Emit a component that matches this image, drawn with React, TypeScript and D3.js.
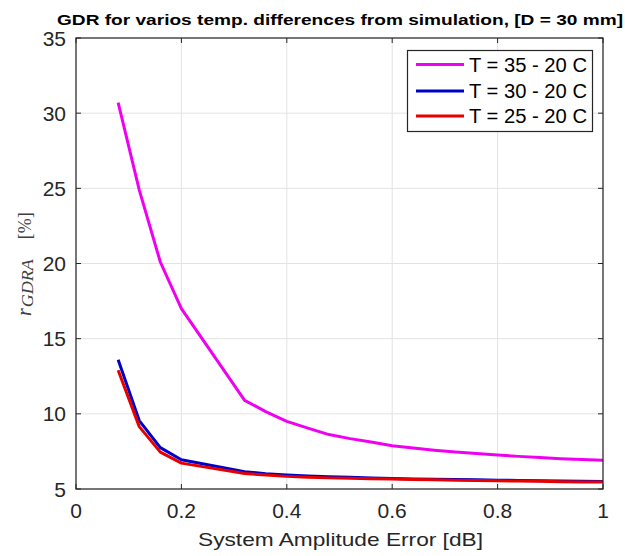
import React from "react";
import * as d3 from "d3";

const xValues = [0.08, 0.12, 0.16, 0.2, 0.32, 0.36, 0.4, 0.44, 0.48, 0.52, 0.56, 0.6, 0.64, 0.68, 0.72, 0.76, 0.8, 0.84, 0.88, 0.92, 0.96, 1.0];
const t35 = [30.7, 24.9, 20.1, 17.0, 10.9, 10.15, 9.5, 9.05, 8.62, 8.35, 8.12, 7.88, 7.72, 7.58, 7.46, 7.36, 7.26, 7.17, 7.09, 7.02, 6.96, 6.92];
const t30 = [13.6, 9.55, 7.75, 6.95, 6.15, 6.02, 5.93, 5.87, 5.82, 5.78, 5.74, 5.7, 5.67, 5.65, 5.63, 5.61, 5.59, 5.57, 5.55, 5.54, 5.52, 5.5];
const t25 = [12.9, 9.15, 7.45, 6.72, 6.03, 5.93, 5.84, 5.78, 5.74, 5.71, 5.68, 5.66, 5.63, 5.61, 5.59, 5.57, 5.55, 5.53, 5.51, 5.49, 5.47, 5.46];
const seriesNames = ["T = 35 - 20 C", "T = 30 - 20 C", "T = 25 - 20 C"];
const seriesColors = ["#f000f0", "#0000c8", "#e80000"];
const xTicks = [0, 0.2, 0.4, 0.6, 0.8, 1];
const yTicks = [5, 10, 15, 20, 25, 30, 35];
const titleText = "GDR for varios temp. differences from simulation, [D = 30 mm]";
const xLabel = "System Amplitude Error [dB]";

const W = 625, H = 556;
const M = { left: 76, right: 603, top: 38, bottom: 489 };

export default function App() {
  const x = d3.scaleLinear().domain([0, 1]).range([M.left, M.right]);
  const y = d3.scaleLinear().domain([5, 35]).range([M.bottom, M.top]);
  const line = d3.line<[number, number]>().x(d => x(d[0])).y(d => y(d[1]));
  const series = [t35, t30, t25];
  const axisColor = "#262626";
  const font = "'Liberation Sans', Arial, sans-serif";
  const tickLen = 5;
  const fmt = (v: number) => (v === 0 ? "0" : v === 1 ? "1" : String(v));
  return (
    <svg width={W} height={H} style={{ position: "absolute", left: 0, top: 0, background: "#fff" }}>
      <rect x={0} y={0} width={W} height={H} fill="#fff" />
      {xTicks.map(t => (
        <line key={"gx" + t} x1={x(t)} x2={x(t)} y1={M.top} y2={M.bottom} stroke="#e3e3e3" strokeWidth={1} />
      ))}
      {yTicks.map(t => (
        <line key={"gy" + t} x1={M.left} x2={M.right} y1={y(t)} y2={y(t)} stroke="#e3e3e3" strokeWidth={1} />
      ))}
      {series.map((s, i) => (
        <path
          key={"s" + i}
          d={line(xValues.map((xv, j) => [xv, s[j]] as [number, number])) || ""}
          fill="none"
          stroke={seriesColors[i]}
          strokeWidth={3}
          strokeLinejoin="round"
        />
      ))}
      <rect x={M.left} y={M.top} width={M.right - M.left} height={M.bottom - M.top} fill="none" stroke={axisColor} strokeWidth={1.2} />
      {xTicks.map(t => (
        <g key={"tx" + t}>
          <line x1={x(t)} x2={x(t)} y1={M.bottom} y2={M.bottom - tickLen} stroke={axisColor} />
          <line x1={x(t)} x2={x(t)} y1={M.top} y2={M.top + tickLen} stroke={axisColor} />
          <text x={x(t)} y={518} textAnchor="middle" fontFamily={font} fontSize={21} fill={axisColor}>
            {fmt(t)}
          </text>
        </g>
      ))}
      {yTicks.map(t => (
        <g key={"ty" + t}>
          <line x1={M.left} x2={M.left + tickLen} y1={y(t)} y2={y(t)} stroke={axisColor} />
          <line x1={M.right} x2={M.right - tickLen} y1={y(t)} y2={y(t)} stroke={axisColor} />
          <text x={66} y={y(t) + 7.5} textAnchor="end" fontFamily={font} fontSize={21} fill={axisColor}>
            {t}
          </text>
        </g>
      ))}
      <text x={340} y={25} textAnchor="middle" fontFamily={font} fontWeight="bold" fontSize={15.5} fill="#000" textLength={566} lengthAdjust="spacingAndGlyphs">
        {titleText}
      </text>
      <text x={340.5} y={546} textAnchor="middle" fontFamily={font} fontSize={19} fill={axisColor} textLength={285} lengthAdjust="spacingAndGlyphs">
        {xLabel}
      </text>
      <g transform="translate(31,316) rotate(-90)">
        <text x={0} y={0} fontFamily="'Liberation Serif', 'DejaVu Serif', serif" fill="#404040">
          <tspan fontStyle="italic" fontSize={20}>r</tspan>
          <tspan fontStyle="italic" fontSize={17.5} dy={1.5} dx={1} textLength={48} lengthAdjust="spacingAndGlyphs">GDRA</tspan>
          <tspan fontSize={18} dy={-1.5} dx={20}>[%]</tspan>
        </text>
      </g>
      <rect x={407.5} y={50.5} width={185} height={81} fill="#fff" stroke={axisColor} strokeWidth={1.2} />
      {seriesNames.map((n, i) => {
        const ly = [64.5, 91, 116][i];
        return (
          <g key={"lg" + i}>
            <line x1={416} x2={464} y1={ly} y2={ly} stroke={seriesColors[i]} strokeWidth={3} />
            <text x={469} y={ly + 7} fontFamily={font} fontSize={19.5} fill="#000" textLength={118} lengthAdjust="spacingAndGlyphs">
              {n}
            </text>
          </g>
        );
      })}
    </svg>
  );
}
